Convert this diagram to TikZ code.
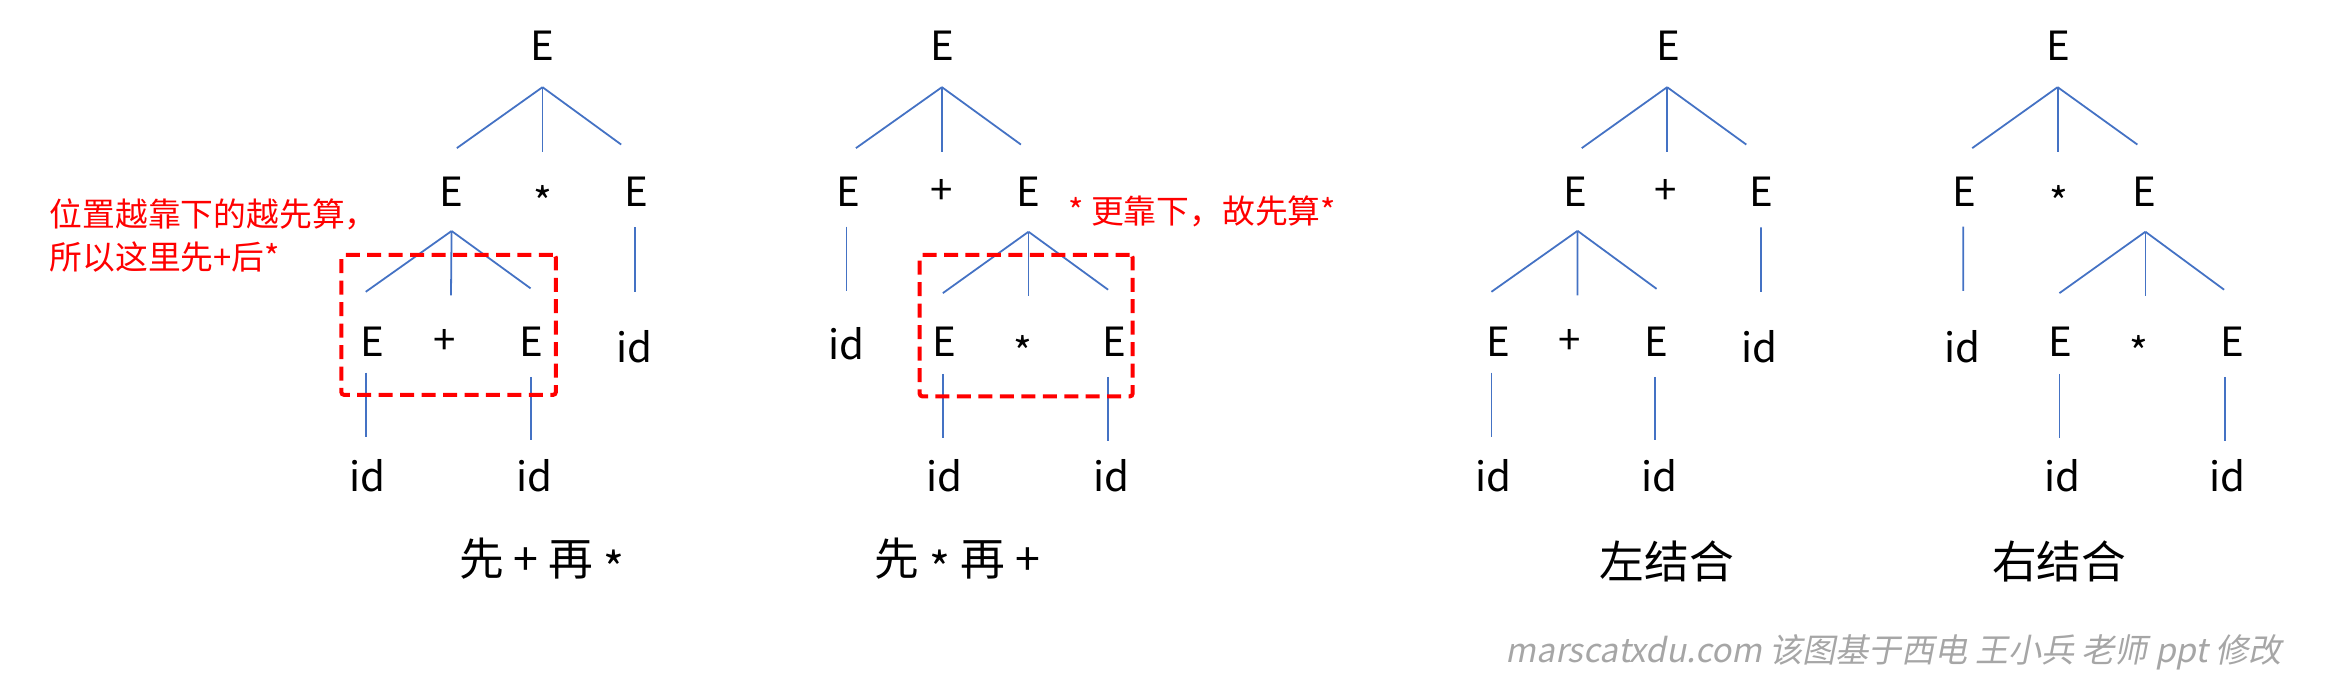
\documentclass[tikz,border=0pt]{standalone}
\usepackage{fontspec}
\setmainfont{Noto Sans CJK SC}
\newfontfamily\wmfont[FakeSlant=0.2]{Noto Sans CJK SC}
\usetikzlibrary{calc}
\definecolor{treeblue}{HTML}{4472C4}
\definecolor{wmgray}{HTML}{A6A6A6}
\newcommand{\lowstar}{\raisebox{-0.22em}{*}}
\tikzset{
  sym/.style={inner sep=0pt, font=\fontsize{13.5pt}{16pt}\selectfont},
  lbl/.style={inner sep=0pt, font=\fontsize{15pt}{18pt}\selectfont},
  note/.style={inner sep=0pt, anchor=west, text=red, align=left, font=\fontsize{11pt}{14.5pt}\selectfont},
  edge/.style={draw=treeblue, line width=0.6pt},
  redbox/.style={draw=red, line width=1.35pt, dash pattern=on 4.7pt off 2.5pt, rounded corners=1pt, inner sep=0pt},
  wm/.style={inner sep=0pt, anchor=west, text=wmgray, font=\wmfont\fontsize{11.1pt}{14pt}\selectfont}
}
\begin{document}
\begin{tikzpicture}[x=0.5pt,y=-0.5pt]
\useasboundingbox (0,0) rectangle (1560,458.3);

% ---------- Tree 1 ----------
\node[sym] (a0) at (364,30.7) {E};
\node[sym] (a1) at (303,128.6) {E};
\node[sym] (a2) at (364,135) {*};
\node[sym] (a3) at (427,128.6) {E};
\node[sym] (a4) at (250,229.5) {E};
\node[sym] (a5) at (298.5,229.5) {+};
\node[sym] (a6) at (356.3,229.5) {E};
\node[sym] (a7) at (426,232.4) {id};
\node[sym] (a8) at (246.4,319.2) {id};
\node[sym] (a9) at (358.4,319.2) {id};
\draw[edge] ($(a0)+(0,27.8)$) -- ($(a1)+(3.5,-29.2)$);
\draw[edge] ($(a0)+(0,27.8)$) -- ($(a2)+(0,-32.7)$);
\draw[edge] ($(a0)+(0,27.8)$) -- ($(a3)+(-10.2,-31.6)$);
\draw[edge] ($(a1)+(0,26.4)$) -- ($(a4)+(-4.6,-33.7)$);
\draw[edge] ($(a1)+(0,26.4)$) -- ($(a5)+(4.1,-31.3)$);
\draw[edge] ($(a1)+(0,26.4)$) -- ($(a6)+(-0.3,-36)$);
\draw[edge] ($(a3)+(-1,24)$) -- ($(a7)+(0,-36.6)$);
\draw[edge] ($(a4)+(-4.6,20.5)$) -- ($(a8)+(-1,-26.2)$);
\draw[edge] ($(a6)+(0,23.4)$) -- ($(a9)+(-2.1,-23.9)$);
\node[redbox, minimum width=72pt, minimum height=47pt] (box1) at (301,218) {};
\node[note] (n1) at (33,157.9) {位置越靠下的越先算，\\所以这里先+后*};
\node[lbl] (la) at (363.5,377) {先 + 再 \lowstar};

% ---------- Tree 2 ----------
\node[sym] (b0) at (632,30.7) {E};
\node[sym] (b1) at (568.9,128.6) {E};
\node[sym] (b2) at (632,128.6) {+};
\node[sym] (b3) at (690.1,128.6) {E};
\node[sym] (b4) at (567.9,230.9) {id};
\node[sym] (b5) at (633.6,229.4) {E};
\node[sym] (b6) at (686,236) {*};
\node[sym] (b7) at (748,229.4) {E};
\node[sym] (b8) at (634,319.2) {id};
\node[sym] (b9) at (745.6,319.2) {id};
\draw[edge] ($(b0)+(0,27.8)$) -- ($(b1)+(5.4,-29.2)$);
\draw[edge] ($(b0)+(0,27.8)$) -- ($(b2)+(0,-26.3)$);
\draw[edge] ($(b0)+(0,27.8)$) -- ($(b3)+(-5.1,-31.6)$);
\draw[edge] ($(b1)+(-1,23.4)$) -- ($(b4)+(0,-35.7)$);
\draw[edge] ($(b3)+(0,26.9)$) -- ($(b5)+(-1,-32.7)$);
\draw[edge] ($(b3)+(0,26.9)$) -- ($(b6)+(4.1,-37.3)$);
\draw[edge] ($(b3)+(0,26.9)$) -- ($(b7)+(-4.5,-35)$);
\draw[edge] ($(b5)+(-1,21.4)$) -- ($(b8)+(-1.4,-25.5)$);
\draw[edge] ($(b7)+(-4.5,23.4)$) -- ($(b9)+(-2.1,-23.4)$);
\node[redbox, minimum width=71.5pt, minimum height=47.5pt] (box2) at (688.5,218.5) {};
\node[note] (n2) at (716.5,141.8) {* 更靠下，故先算*};
\node[lbl] (lb) at (642.5,377) {先 \lowstar\ 再 +};

% ---------- Tree 3 ----------
\node[sym] (c0) at (1119.4,30.7) {E};
\node[sym] (c1) at (1057.3,128.6) {E};
\node[sym] (c2) at (1117.5,128.6) {+};
\node[sym] (c3) at (1181.9,128.6) {E};
\node[sym] (c4) at (1005.4,229.5) {E};
\node[sym] (c5) at (1053.4,229.5) {+};
\node[sym] (c6) at (1111.5,229.5) {E};
\node[sym] (c7) at (1180.7,232.4) {id};
\node[sym] (c8) at (1001.9,319.2) {id};
\node[sym] (c9) at (1113.5,319.2) {id};
\draw[edge] ($(c0)+(-0.8,27.8)$) -- ($(c1)+(4,-29.2)$);
\draw[edge] ($(c0)+(-0.8,27.8)$) -- ($(c2)+(1.1,-26.3)$);
\draw[edge] ($(c0)+(-0.8,27.8)$) -- ($(c3)+(-10.2,-31.6)$);
\draw[edge] ($(c1)+(1.2,26.3)$) -- ($(c4)+(-4.7,-33.7)$);
\draw[edge] ($(c1)+(1.2,26.3)$) -- ($(c5)+(5.1,-31.3)$);
\draw[edge] ($(c1)+(1.2,26.3)$) -- ($(c6)+(0,-35.7)$);
\draw[edge] ($(c3)+(-0.3,24)$) -- ($(c7)+(0.9,-36.6)$);
\draw[edge] ($(c4)+(-4.7,20.5)$) -- ($(c8)+(-1.2,-26.2)$);
\draw[edge] ($(c6)+(-0.8,23.4)$) -- ($(c9)+(-2.8,-23.9)$);
\node[lbl] (lc) at (1118.5,377) {左结合};

% ---------- Tree 4 ----------
\node[sym] (d0) at (1381.4,30.7) {E};
\node[sym] (d1) at (1318.1,128.6) {E};
\node[sym] (d2) at (1381.4,135) {*};
\node[sym] (d3) at (1438.9,128.6) {E};
\node[sym] (d4) at (1316.5,232.4) {id};
\node[sym] (d5) at (1382.6,229.4) {E};
\node[sym] (d6) at (1434.9,236) {*};
\node[sym] (d7) at (1497.5,229.4) {E};
\node[sym] (d8) at (1384.1,319.2) {id};
\node[sym] (d9) at (1494.6,319.2) {id};
\draw[edge] ($(d0)+(-0.8,27.8)$) -- ($(d1)+(5.2,-29.2)$);
\draw[edge] ($(d0)+(-0.8,27.8)$) -- ($(d2)+(-0.8,-32.7)$);
\draw[edge] ($(d0)+(-0.8,27.8)$) -- ($(d3)+(-4.8,-31.6)$);
\draw[edge] ($(d1)+(-0.8,23.4)$) -- ($(d4)+(0.8,-37.2)$);
\draw[edge] ($(d3)+(0.6,26.9)$) -- ($(d5)+(-0.8,-32.7)$);
\draw[edge] ($(d3)+(0.6,26.9)$) -- ($(d6)+(4.6,-37.3)$);
\draw[edge] ($(d3)+(0.6,26.9)$) -- ($(d7)+(-5.2,-35)$);
\draw[edge] ($(d5)+(-0.8,21.4)$) -- ($(d8)+(-2.3,-25.5)$);
\draw[edge] ($(d7)+(-4.8,23.4)$) -- ($(d9)+(-1.9,-23.4)$);
\node[lbl] (ld) at (1381.6,377) {右结合};

% ---------- watermark ----------
\node[wm] (w) at (1010,438) {marscatxdu.com 该图基于西电 王小兵 老师 ppt 修改};
\end{tikzpicture}
\end{document}
